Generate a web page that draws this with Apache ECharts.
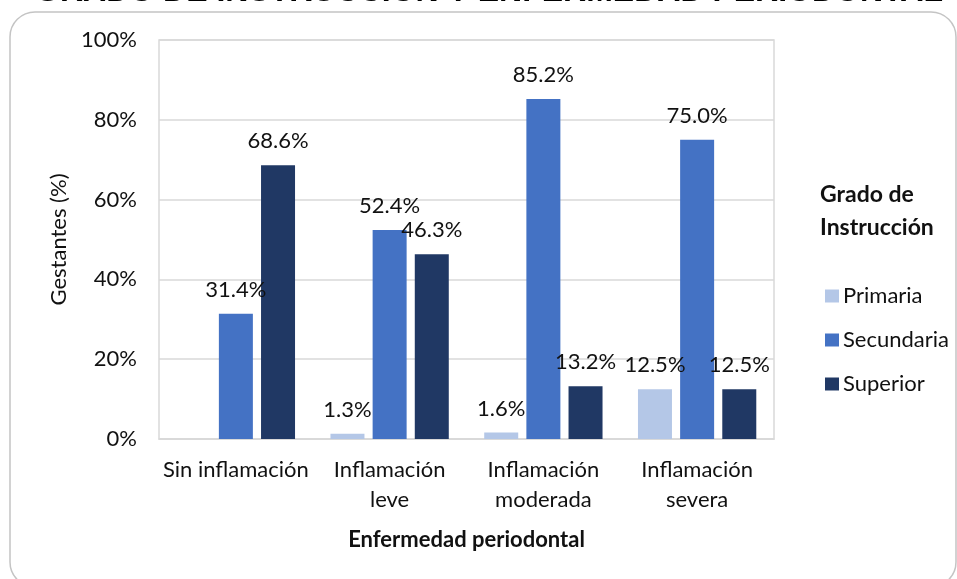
<!DOCTYPE html>
<html>
<head>
<meta charset="utf-8">
<script src="https://cdn.jsdelivr.net/npm/echarts@6/dist/echarts.min.js"></script>
<style>
html,body{margin:0;padding:0;background:#fff;}
#chart{width:957px;height:579px;}
</style>
</head>
<body>
<div id="chart"></div>
<script>
const categories = ['Sin inflamación', 'Inflamación\nleve', 'Inflamación\nmoderada', 'Inflamación\nsevera'];
const seriesNames = ['Primaria', 'Secundaria', 'Superior'];
const primaria = [0, 1.3, 1.6, 12.5];
const secundaria = [31.4, 52.4, 85.2, 75.0];
const superior = [68.6, 46.3, 13.2, 12.5];
const yTicks = [0, 20, 40, 60, 80, 100];

const colors = ['#b4c7e7', '#4472c4', '#203864'];
const FONT = 'Lato';
const chart = echarts.init(document.getElementById('chart'));

function mkSeries(name, data, color) {
  return {
    name: name,
    type: 'bar',
    data: data,
    barWidth: 34,
    barGap: '24%',
    itemStyle: { color: color },
    label: {
      show: true,
      position: 'top',
      distance: 13,
      fontFamily: FONT,
      fontSize: 22,
      color: '#111',
      formatter: p => p.value === 0 ? '' : p.value.toFixed(1) + '%'
    }
  };
}

chart.setOption({
  animation: false,
  textStyle: { fontFamily: FONT },
  graphic: [
    {
      type: 'rect',
      shape: { x: 10, y: 12, width: 946, height: 575, r: 25 },
      style: { fill: 'none', stroke: '#c4c4c4', lineWidth: 1.5 },
      z: -10
    },
    {
      type: 'text',
      x: 489, y: -8,
      style: {
        text: 'GRADO DE INSTRUCCIÓN Y ENFERMEDAD PERIODONTAL',
        fontFamily: 'Liberation Sans', fontWeight: 'bold', fontSize: 32,
        fill: '#000', align: 'center', verticalAlign: 'middle'
      }
    },
    {
      type: 'text',
      x: 820, y: 178,
      style: {
        text: 'Grado de\nInstrucción',
        fontFamily: FONT, fontWeight: 'bold', fontSize: 23, lineHeight: 33,
        fill: '#111', align: 'left', verticalAlign: 'top'
      }
    }
  ],
  legend: {
    orient: 'vertical',
    left: 820,
    top: 280,
    itemWidth: 14,
    itemHeight: 13,
    itemGap: 22,
    icon: 'rect',
    data: seriesNames,
    textStyle: { fontFamily: FONT, fontSize: 22, color: '#111', padding: [0, 0, 0, -1] }
  },
  grid: { left: 159, right: 183, top: 40, bottom: 140, show: true, borderColor: '#d9d9d9', borderWidth: 1.5 },
  xAxis: {
    type: 'category',
    data: categories,
    name: 'Enfermedad periodontal',
    nameLocation: 'middle',
    nameGap: 90,
    nameTextStyle: { fontFamily: FONT, fontWeight: 'bold', fontSize: 22, color: '#111' },
    axisLine: { lineStyle: { color: '#d9d9d9', width: 1.5 } },
    axisTick: { show: false },
    axisLabel: { fontFamily: FONT, fontSize: 22, color: '#111', lineHeight: 30, margin: 16, interval: 0 }
  },
  yAxis: {
    type: 'value',
    min: yTicks[0],
    max: yTicks[yTicks.length - 1],
    interval: 20,
    name: 'Gestantes (%)',
    nameLocation: 'middle',
    nameGap: 82,
    nameTextStyle: { fontFamily: FONT, fontSize: 22, color: '#111' },
    axisLine: { show: false },
    axisTick: { show: false },
    splitLine: { lineStyle: { color: '#d9d9d9', width: 1.5 } },
    axisLabel: { fontFamily: FONT, fontSize: 22, color: '#111', margin: 22, formatter: '{value}%' }
  },
  series: [
    mkSeries(seriesNames[0], primaria, colors[0]),
    mkSeries(seriesNames[1], secundaria, colors[1]),
    mkSeries(seriesNames[2], superior, colors[2])
  ]
});
</script>
</body>
</html>
